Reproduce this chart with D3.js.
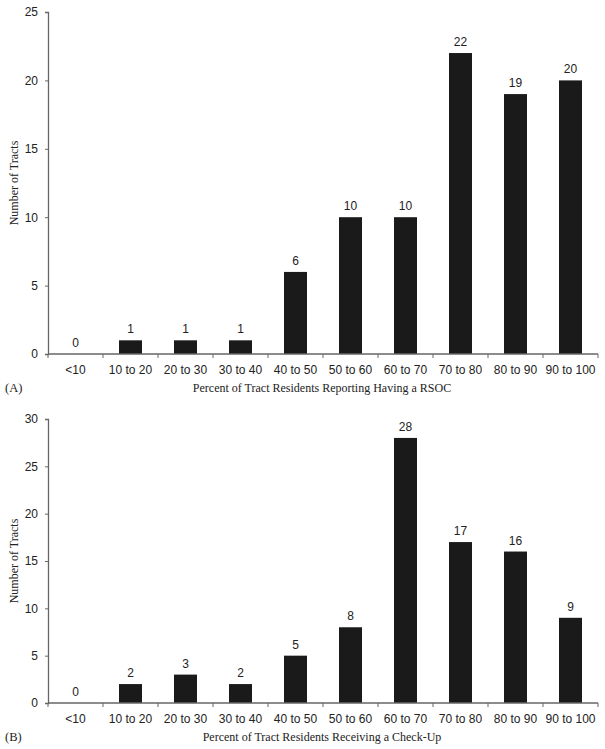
<!DOCTYPE html>
<html><head><meta charset="utf-8">
<script src="https://cdn.jsdelivr.net/npm/d3@7"></script>
<style>body{margin:0;background:#fff}</style>
</head><body>
<svg id="c" width="605" height="749"></svg>
<script>
const categories = ["<10","10 to 20","20 to 30","30 to 40","40 to 50","50 to 60","60 to 70","70 to 80","80 to 90","90 to 100"];
const valuesA = [0,1,1,1,6,10,10,22,19,20];
const valuesB = [0,2,3,2,5,8,28,17,16,9];
const ticksA = [0,5,10,15,20,25];
const ticksB = [0,5,10,15,20,25,30];

const svg = d3.select("#c");
const sans = "'Liberation Sans', Arial, sans-serif";
const serif = "'Liberation Serif', 'Times New Roman', serif";

function panel(vals, ticks, yTop, yBot, maxV, xTitle, tag) {
  const xb = d3.scaleBand().domain(categories).range([48, 598]);
  const y = d3.scaleLinear().domain([0, maxV]).range([yBot, yTop]);
  const g = svg.append("g");
  g.selectAll("rect").data(vals).join("rect")
    .attr("x", (d,i)=>xb(categories[i]) + xb.bandwidth()/2 - 11.5)
    .attr("width", 23)
    .attr("y", d=>y(d)).attr("height", d=>yBot - y(d))
    .attr("fill", "#1a1a1a");
  g.selectAll("text.v").data(vals).join("text").attr("class","v")
    .attr("x", (d,i)=>xb(categories[i]) + xb.bandwidth()/2)
    .attr("y", d=>y(d) - 7)
    .attr("text-anchor","middle").attr("font-family",sans).attr("font-size",12).attr("fill","#222")
    .text(d=>d);
  const ya = g.append("g").attr("transform",`translate(48,0)`)
    .call(d3.axisLeft(y).tickValues(ticks).tickSize(3).tickPadding(7));
  ya.select(".domain").attr("stroke","#666").attr("stroke-width",1.3);
  ya.selectAll(".tick line").attr("stroke","#666");
  ya.selectAll("text").attr("font-family",sans).attr("font-size",12).attr("fill","#222");
  const xa = g.append("g").attr("transform",`translate(0,${yBot})`);
  xa.append("line").attr("x1",48).attr("x2",598).attr("y1",0).attr("y2",0).attr("stroke","#666").attr("stroke-width",1.3);
  const bounds = categories.map(c=>xb(c)).concat([598]);
  xa.selectAll("line.t").data(bounds).join("line").attr("class","t")
    .attr("x1",d=>d).attr("x2",d=>d).attr("y1",0).attr("y2",4).attr("stroke","#666");
  xa.selectAll("text").data(categories).join("text")
    .attr("x", c=>xb(c)+xb.bandwidth()/2).attr("y",20)
    .attr("text-anchor","middle").attr("font-family",sans).attr("font-size",12).attr("fill","#222")
    .text(c=>c);
  g.append("text").attr("x",322).attr("y",yBot+38).attr("text-anchor","middle")
    .attr("font-family",serif).attr("font-size",12).attr("fill","#222").text(xTitle);
  g.append("text").attr("x",5).attr("y",yBot+38).attr("font-family",serif).attr("font-size",12.5).attr("fill","#222").text(tag);
  g.append("text").attr("transform",`translate(18,${(yTop+yBot)/2}) rotate(-90)`)
    .attr("text-anchor","middle").attr("font-family",serif).attr("font-size",12).attr("fill","#222")
    .text("Number of Tracts");
}
panel(valuesA, ticksA, 12, 354, 25, "Percent of Tract Residents Reporting Having a RSOC", "(A)");
panel(valuesB, ticksB, 419, 703, 30, "Percent of Tract Residents Receiving a Check-Up", "(B)");
</script>
</body></html>
